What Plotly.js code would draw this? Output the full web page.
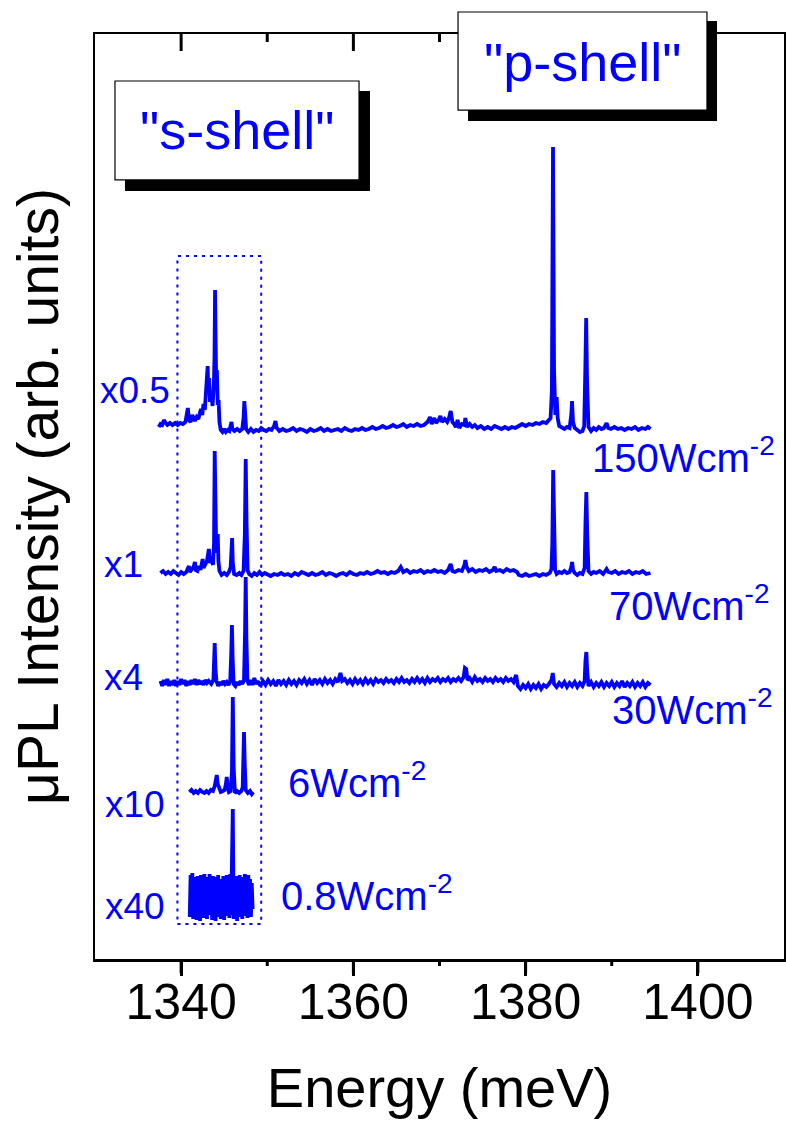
<!DOCTYPE html>
<html>
<head>
<meta charset="utf-8">
<script src="https://cdn.plot.ly/plotly-3.0.1.min.js"></script>
<style>html,body{margin:0;padding:0;background:#fff;}#chart{width:786px;height:1123px;}</style>
</head>
<body>
<div id="chart"></div>
<script>
// ---------- DATA (energies in meV, intensities in arb. units above each spectrum's own baseline) ----------
const powerLabels = ['150Wcm<sup>-2</sup>', '70Wcm<sup>-2</sup>', '30Wcm<sup>-2</sup>', '6Wcm<sup>-2</sup>', '0.8Wcm<sup>-2</sup>'];
const scaleLabels = ['x0.5', 'x1', 'x4', 'x10', 'x40'];
const stackOffset = [529, 386, 276, 167, 62];
const xRange = [1330, 1410];
const majorTicks = [1340, 1360, 1380, 1400];
const minorTicks = [1350, 1370, 1390];

const e150 = [1337.4,1337.6,1337.8,1338.0,1338.2,1338.4,1338.7,1339.0,1339.3,1339.6,1339.9,1340.2,1340.5,1340.65,1340.78,1340.9,1341.1,1341.3,1341.45,1341.6,1341.8,1342.0,1342.15,1342.3,1342.45,1342.6,1342.75,1342.9,1343.0,1343.08,1343.15,1343.25,1343.35,1343.5,1343.65,1343.8,1343.88,1343.94,1344.0,1344.08,1344.15,1344.25,1344.35,1344.45,1344.6,1344.8,1345.0,1345.2,1345.4,1345.6,1345.75,1345.85,1345.95,1346.2,1346.5,1346.8,1347.1,1347.25,1347.34,1347.42,1347.55,1347.8,1348.1,1348.4,1348.7,1349.0,1349.3,1349.6,1349.9,1350.2,1350.5,1350.8,1350.95,1351.1,1351.4,1351.8,1352.2,1352.6,1353.0,1353.4,1353.8,1354.2,1354.6,1355.0,1355.4,1355.8,1356.2,1356.6,1357.0,1357.4,1357.8,1358.2,1358.6,1359.0,1359.4,1359.8,1360.2,1360.6,1361.0,1361.4,1361.8,1362.2,1362.6,1363.0,1363.4,1363.8,1364.2,1364.6,1365.0,1365.4,1365.8,1366.2,1366.6,1367.0,1367.4,1367.8,1368.2,1368.6,1368.9,1369.1,1369.4,1369.6,1369.9,1370.1,1370.3,1370.6,1370.9,1371.1,1371.3,1371.5,1371.7,1371.9,1372.1,1372.3,1372.6,1372.9,1373.0,1373.2,1373.5,1373.8,1374.1,1374.4,1374.8,1375.2,1375.6,1376.0,1376.4,1376.8,1377.2,1377.6,1378.0,1378.4,1378.8,1379.2,1379.6,1380.0,1380.4,1380.8,1381.2,1381.6,1382.0,1382.4,1382.7,1382.9,1383.05,1383.18,1383.3,1383.45,1383.6,1383.72,1383.9,1384.2,1384.5,1384.8,1385.1,1385.3,1385.39,1385.5,1385.7,1386.0,1386.3,1386.6,1386.8,1386.93,1387.03,1387.13,1387.3,1387.6,1387.9,1388.2,1388.5,1388.8,1389.1,1389.4,1389.6,1389.9,1390.3,1390.7,1391.1,1391.5,1391.9,1392.3,1392.7,1393.1,1393.5,1393.9,1394.2,1394.5];
const i150 = [3,6,5,10,7,5,7,5,7,5,7,6,8,14,22,10,8,15,11,9,13,11,16,21,15,26,20,38,50,64,42,52,28,36,24,45,75,140,95,40,60,25,30,8,0,-2,1,-2,0,-1,3,8,1,-1,1,-1,1,12,29,14,1,-2,1,-2,0,-1,2,0,-1,1,0,4,9,2,-1,1,-1,0,2,-1,1,0,-2,1,-1,0,2,-1,1,-1,0,1,-1,2,0,-1,1,0,2,0,1,3,1,2,4,2,3,5,3,4,6,3,5,4,6,4,5,8,13,6,12,7,10,14,8,11,8,12,19,8,6,3,10,2,6,5,12,3,6,3,5,2,4,1,3,1,4,2,1,3,1,3,2,4,6,4,6,5,7,6,8,7,10,12,40,283,60,15,33,12,4,2,1,3,2,15,29,8,2,0,-2,-1,4,60,112,50,3,-1,2,0,3,1,2,7,2,1,3,1,2,0,2,1,3,0,2,1,3,1];

const e70 = [1337.6,1337.9,1338.2,1338.5,1338.8,1339.1,1339.4,1339.7,1340.0,1340.3,1340.6,1340.8,1340.9,1341.0,1341.2,1341.45,1341.6,1341.7,1341.9,1342.1,1342.25,1342.4,1342.5,1342.6,1342.8,1343.0,1343.15,1343.22,1343.35,1343.55,1343.7,1343.82,1343.9,1343.98,1344.08,1344.18,1344.25,1344.33,1344.45,1344.7,1345.0,1345.3,1345.55,1345.75,1345.85,1345.92,1346.0,1346.15,1346.45,1346.75,1347.0,1347.25,1347.4,1347.5,1347.6,1347.72,1347.9,1348.2,1348.5,1348.8,1349.1,1349.4,1349.7,1350.0,1350.4,1350.8,1351.2,1351.6,1352.0,1352.4,1352.8,1353.2,1353.6,1354.0,1354.4,1354.8,1355.2,1355.6,1356.0,1356.4,1356.8,1357.2,1357.6,1358.0,1358.4,1358.8,1359.2,1359.6,1360.0,1360.4,1360.8,1361.2,1361.6,1362.0,1362.4,1362.8,1363.2,1363.6,1364.0,1364.4,1364.8,1365.2,1365.5,1365.8,1366.2,1366.6,1367.0,1367.4,1367.8,1368.2,1368.6,1369.0,1369.4,1369.8,1370.2,1370.6,1371.0,1371.3,1371.5,1371.8,1372.2,1372.6,1372.9,1373.0,1373.15,1373.4,1373.8,1374.2,1374.6,1375.0,1375.4,1375.8,1376.2,1376.4,1376.6,1377.0,1377.4,1377.8,1378.2,1378.6,1379.0,1379.2,1379.6,1380.0,1380.4,1380.8,1381.2,1381.6,1382.0,1382.4,1382.8,1383.0,1383.1,1383.2,1383.3,1383.42,1383.6,1383.9,1384.2,1384.5,1384.8,1385.1,1385.3,1385.4,1385.5,1385.7,1386.0,1386.3,1386.6,1386.85,1386.95,1387.05,1387.15,1387.3,1387.6,1387.9,1388.2,1388.6,1389.0,1389.4,1389.6,1390.0,1390.4,1390.8,1391.2,1391.6,1392.0,1392.4,1392.8,1393.2,1393.6,1394.0,1394.5];
const i70 = [0,2,-1,1,-1,2,0,-2,1,-1,1,4,7,1,3,6,11,3,2,7,3,9,14,5,8,12,20,24,10,14,8,30,122,60,20,35,39,12,2,-2,0,-2,1,6,30,35,10,-1,-2,0,-2,2,40,114,50,3,-1,-3,0,-2,1,-2,0,-1,-3,-1,-2,0,-2,-1,-3,0,-2,1,-1,-2,0,-2,-1,1,-2,0,-1,-3,-1,0,-2,1,-1,-2,0,-1,1,-1,0,2,0,1,-1,1,0,2,6,1,3,0,2,1,3,0,2,1,3,1,2,0,3,9,2,1,3,2,8,13,6,2,4,1,3,2,4,1,3,6,2,3,1,4,2,3,1,-2,-3,-1,-3,-2,-1,-3,-1,-2,0,4,30,103,40,3,-1,1,0,2,0,1,6,11,3,0,-2,0,-1,5,50,81,40,2,-1,1,0,2,-1,4,1,0,2,-1,1,0,2,-1,1,0,2,-1,0];

const e30 = [1337.6,1337.8,1338.0,1338.2,1338.4,1338.6,1338.8,1339.0,1339.2,1339.4,1339.6,1339.8,1340.0,1340.2,1340.4,1340.6,1340.8,1341.0,1341.2,1341.4,1341.6,1341.8,1342.0,1342.2,1342.4,1342.6,1342.8,1343.0,1343.2,1343.5,1343.75,1343.82,1343.9,1343.98,1344.1,1344.3,1344.5,1344.7,1344.9,1345.1,1345.3,1345.5,1345.7,1345.82,1345.9,1345.98,1346.1,1346.3,1346.5,1346.7,1346.9,1347.1,1347.3,1347.42,1347.5,1347.58,1347.7,1347.9,1348.1,1348.3,1348.5,1348.7,1348.9,1349.2,1349.5,1349.8,1350.1,1350.4,1350.7,1351.0,1351.3,1351.6,1351.9,1352.2,1352.5,1352.8,1353.1,1353.4,1353.7,1354.0,1354.3,1354.6,1354.9,1355.2,1355.5,1355.8,1356.1,1356.4,1356.7,1357.0,1357.3,1357.6,1357.9,1358.2,1358.5,1358.7,1359.0,1359.3,1359.6,1359.9,1360.2,1360.5,1360.8,1361.1,1361.4,1361.7,1362.0,1362.3,1362.6,1362.9,1363.2,1363.5,1363.8,1364.1,1364.4,1364.7,1365.0,1365.3,1365.6,1365.9,1366.2,1366.5,1366.8,1367.1,1367.4,1367.7,1368.0,1368.3,1368.6,1368.9,1369.2,1369.5,1369.8,1370.1,1370.4,1370.7,1371.0,1371.3,1371.6,1371.9,1372.2,1372.5,1372.8,1372.95,1373.1,1373.25,1373.5,1373.8,1374.1,1374.4,1374.7,1375.0,1375.3,1375.6,1375.9,1376.2,1376.5,1376.8,1377.1,1377.4,1377.7,1378.0,1378.3,1378.6,1378.9,1379.1,1379.4,1379.7,1380.0,1380.3,1380.6,1380.9,1381.2,1381.5,1381.8,1382.1,1382.4,1382.7,1383.0,1383.15,1383.3,1383.6,1383.9,1384.2,1384.5,1384.8,1385.1,1385.4,1385.7,1386.0,1386.3,1386.6,1386.85,1386.95,1387.05,1387.15,1387.3,1387.6,1387.9,1388.2,1388.5,1388.8,1389.1,1389.4,1389.7,1390.0,1390.3,1390.6,1390.9,1391.2,1391.5,1391.8,1392.1,1392.4,1392.7,1393.0,1393.3,1393.6,1393.9,1394.2,1394.5];
const i30 = [2,-3,3,-2,4,-3,2,-2,3,-3,2,-2,4,-1,3,-3,2,-2,3,-1,4,-2,3,-1,2,-2,3,0,2,-1,3,20,40,15,2,-3,1,-2,2,-1,1,-2,2,30,58,25,-1,-3,1,-2,2,-1,3,50,106,45,2,-2,3,-2,5,-1,2,-3,2,-2,3,-1,2,-3,3,-1,2,-2,3,-1,2,-2,3,0,4,-1,3,-2,4,0,3,-1,4,0,3,-1,4,1,10,2,4,0,3,-1,4,0,3,-1,4,0,3,-1,4,1,3,0,4,1,3,0,4,1,5,1,3,0,4,1,5,1,4,0,5,1,4,2,5,1,4,2,5,1,4,2,5,2,6,15,14,3,5,1,6,2,4,1,5,2,4,1,5,2,4,1,5,2,4,1,8,-3,-6,-2,-5,-1,-6,-2,-5,-1,-6,-2,-4,-1,3,10,-1,-4,0,-3,1,-4,0,-3,1,-4,0,-3,2,22,31,12,-3,1,-4,0,-3,1,-4,0,-3,1,-4,0,-3,2,-4,0,-3,1,-4,0,-3,1,-4,0,-2];

const e6 = [1340.96,1341.2,1341.45,1341.7,1341.95,1342.2,1342.45,1342.7,1342.95,1343.2,1343.45,1343.7,1343.9,1344.05,1344.14,1344.25,1344.4,1344.6,1344.85,1345.05,1345.2,1345.3,1345.4,1345.55,1345.75,1345.9,1346.0,1346.1,1346.25,1346.5,1346.75,1347.0,1347.15,1347.25,1347.3,1347.38,1347.5,1347.75,1348.0,1348.2,1348.38];
const i6 = [0,2,-1,1,-1,2,0,-1,1,-1,2,1,6,12,17,8,3,0,1,2,8,15,5,0,1,20,95,25,-1,1,-1,1,5,40,60,30,2,-1,1,-2,0];

const e08 = [1341.0,1341.1,1341.2,1341.3,1341.4,1341.5,1341.6,1341.7,1341.8,1341.9,1342.0,1342.1,1342.2,1342.3,1342.4,1342.5,1342.6,1342.7,1342.8,1342.9,1343.0,1343.1,1343.2,1343.3,1343.4,1343.5,1343.6,1343.7,1343.8,1343.9,1344.0,1344.1,1344.2,1344.3,1344.4,1344.5,1344.6,1344.7,1344.8,1344.9,1345.0,1345.1,1345.2,1345.3,1345.4,1345.5,1345.6,1345.7,1345.8,1345.9,1345.96,1346.0,1346.05,1346.1,1346.2,1346.3,1346.4,1346.5,1346.6,1346.7,1346.8,1346.9,1347.0,1347.1,1347.2,1347.3,1347.4,1347.5,1347.6,1347.7,1347.8,1347.9,1348.0,1348.1,1348.2,1348.3];
const i08 = [-20,22,-18,24,-22,20,-16,18,-23,21,-19,15,-24,22,-14,19,-21,23,-17,14,-22,20,-18,23,-15,17,-23,21,-19,16,-24,20,-16,22,-20,18,-22,14,-17,21,-23,19,-15,22,-19,16,-21,23,-18,20,40,88,30,-22,17,-16,21,-24,19,-14,22,-20,15,-22,20,-17,23,-19,16,-21,22,-15,18,-20,14,-12];

// ---------- CHART ----------
const BLUE = '#0000ff';
const FONT = 'Liberation Sans, Arial, sans-serif';
const energies = [e150, e70, e30, e6, e08];
const intens = [i150, i70, i30, i6, i08];

const traces = energies.map((ex, k) => ({
  type: 'scatter', mode: 'lines',
  x: ex,
  y: intens[k].map(v => v + stackOffset[k]),
  line: {color: BLUE, width: 3.8},
  hoverinfo: 'skip', showlegend: false
}));

// label layout positions (data coordinates)
const scalePos = [[1338.96, 569], [1335.83, 395], [1335.83, 282], [1338.38, 155], [1338.38, 53]];
const powerPos = [[1387.5, 504], [1389.4, 356], [1389.8, 252], [1352.2, 179], [1351.4, 66]];

const annotations = [];
scaleLabels.forEach((t, k) => annotations.push({
  text: t, x: scalePos[k][0], y: scalePos[k][1], xref: 'x', yref: 'y',
  xanchor: 'right', yanchor: 'middle', showarrow: false,
  font: {family: FONT, size: 37, color: BLUE}
}));
powerLabels.forEach((t, k) => annotations.push({
  text: t, x: powerPos[k][0], y: powerPos[k][1], xref: 'x', yref: 'y',
  xanchor: 'left', yanchor: 'middle', showarrow: false,
  font: {family: FONT, size: 40, color: BLUE}
}));
annotations.push({text: '"s-shell"', x: 0.2061, y: 0.8957, xref: 'paper', yref: 'paper',
  xanchor: 'center', yanchor: 'middle', showarrow: false, font: {family: FONT, size: 54, color: BLUE}});
annotations.push({text: '"p-shell"', x: 0.7075, y: 0.9697, xref: 'paper', yref: 'paper',
  xanchor: 'center', yanchor: 'middle', showarrow: false, font: {family: FONT, size: 54, color: BLUE}});

const shapes = [
  // dotted "s-shell" region
  {type: 'rect', xref: 'x', yref: 'y', x0: 1339.57, x1: 1349.3, y0: 35, y1: 703,
   line: {color: BLUE, width: 2, dash: '3px,5px'}, layer: 'below'}
];
// tick marks: outside at the bottom, inside at the top (axis fraction of each tick value)
const frac = v => (v - xRange[0]) / (xRange[1] - xRange[0]);
const tickLine = {color: '#000', width: 3};
majorTicks.forEach(v => {
  shapes.push({type: 'line', xref: 'paper', yref: 'paper', x0: frac(v), x1: frac(v), y0: 0, y1: -14 / 925, line: tickLine, layer: 'above'});
  shapes.push({type: 'line', xref: 'paper', yref: 'paper', x0: frac(v), x1: frac(v), y0: 1, y1: 1 - 17 / 925, line: tickLine, layer: 'above'});
});
minorTicks.forEach(v => {
  shapes.push({type: 'line', xref: 'paper', yref: 'paper', x0: frac(v), x1: frac(v), y0: 0, y1: -7 / 925, line: tickLine, layer: 'above'});
  shapes.push({type: 'line', xref: 'paper', yref: 'paper', x0: frac(v), x1: frac(v), y0: 1, y1: 1 - 8 / 925, line: tickLine, layer: 'above'});
});
// label boxes with drop shadows
shapes.push(
  {type: 'rect', xref: 'paper', yref: 'paper', x0: 0.0435, x1: 0.3991, y0: 0.8303, y1: 0.9384,
   fillcolor: '#000', line: {width: 0}, layer: 'above'},
  {type: 'rect', xref: 'paper', yref: 'paper', x0: 0.0290, x1: 0.3832, y0: 0.8422, y1: 0.9492,
   fillcolor: '#fff', line: {color: '#000', width: 1.2}, layer: 'above'},
  {type: 'rect', xref: 'paper', yref: 'paper', x0: 0.5414, x1: 0.9028, y0: 0.9059, y1: 1.0141,
   fillcolor: '#000', line: {width: 0}, layer: 'above'},
  {type: 'rect', xref: 'paper', yref: 'paper', x0: 0.5269, x1: 0.8882, y0: 0.9178, y1: 1.0238,
   fillcolor: '#fff', line: {color: '#000', width: 1.2}, layer: 'above'}
);

const layout = {
  width: 786, height: 1123,
  margin: {l: 95, r: 2, t: 34, b: 164, pad: 0},
  paper_bgcolor: '#fff', plot_bgcolor: '#fff',
  font: {family: FONT, color: '#000'},
  showlegend: false,
  xaxis: {
    range: xRange, tickmode: 'array', tickvals: majorTicks,
    ticks: 'outside', ticklen: 14, tickwidth: 3, tickcolor: '#000',
    showline: true, linewidth: 2.5, linecolor: '#000', mirror: true,
    showgrid: false, zeroline: false, ticklabelstandoff: -17,
    tickfont: {family: FONT, size: 50, color: '#000'},
    title: {text: 'Energy (meV)', font: {family: FONT, size: 56, color: '#000'}, standoff: 40}
  },
  yaxis: {
    range: [0, 925], showline: true, linewidth: 2.5, linecolor: '#000', mirror: true,
    ticks: '', showticklabels: false, showgrid: false, zeroline: false,
    title: {text: 'μPL Intensity (arb. units)', font: {family: FONT, size: 57, color: '#000'}, standoff: 16}
  },
  shapes: shapes,
  annotations: annotations
};

Plotly.newPlot('chart', traces, layout, {displayModeBar: false, staticPlot: true});
</script>
</body>
</html>
